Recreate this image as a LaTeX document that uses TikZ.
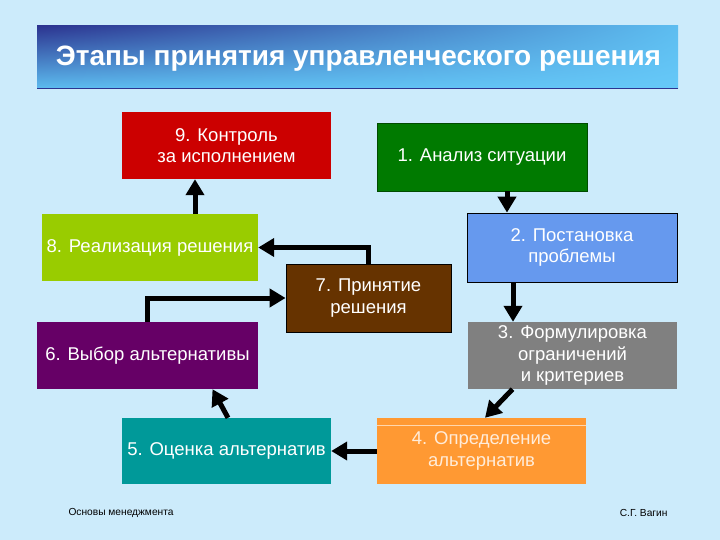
\documentclass[tikz,border=0pt]{standalone}
\usepackage{fontspec}
\setmainfont{Liberation Sans}
\usetikzlibrary{arrows.meta,shadings}
\definecolor{bg}{HTML}{CCEBFB}
\definecolor{tdark}{HTML}{2C3490}
\definecolor{tlight}{HTML}{5DBDF0}
\definecolor{tlight2}{HTML}{66C9F8}
\definecolor{c9}{HTML}{CC0000}
\definecolor{c1}{HTML}{007A00}
\definecolor{c2}{HTML}{6699EE}
\definecolor{c8}{HTML}{99CC00}
\definecolor{c7}{HTML}{663300}
\definecolor{c6}{HTML}{660066}
\definecolor{c3}{HTML}{808080}
\definecolor{c5}{HTML}{009999}
\definecolor{c4}{HTML}{FF9933}
\begin{document}
\begin{tikzpicture}[x=1pt,y=-1pt,
  box/.style={rectangle, inner sep=0pt, align=center, text=white,
    font=\fontsize{18.5}{21.5}\selectfont},
  arr/.style={line width=5pt, -{Triangle[width=18pt,length=16pt]}}]
\fill[bg] (0,0) rectangle (720,540);
\useasboundingbox (0,0) rectangle (720,540);
% title
\shade[upper left=tdark, upper right=tlight, lower left=tlight, lower right=tlight2] (37,26) rectangle (678,89);
\draw[tdark, line width=1pt] (37,89) -- (678,89);
\node[text=white, font=\fontsize{28}{32}\selectfont\bfseries] (title) at (358.5,59) {Этапы принятия управленческого решения};
% boxes
\node[box, fill=c9, minimum width=209pt, minimum height=67pt] (n9) at (226.5,145.5) {9. Контроль\\за исполнением};
\node[box, fill=c1, draw=black!70!green, line width=0.8pt, minimum width=210pt, minimum height=68pt] (n1) at (482,157) {1. Анализ ситуации};
\node[box, fill=c2, draw=black, line width=0.8pt, minimum width=210pt, minimum height=69pt] (n2) at (572,247.5) {2. Постановка\\проблемы};
\node[box, fill=c8, minimum width=216pt, minimum height=67pt] (n8) at (150,247.5) {8. Реализация решения};
\node[box, fill=c7, draw=black, line width=0.8pt, minimum width=165pt, minimum height=68pt] (n7) at (368.5,298) {7. Принятие\\решения};
\node[box, fill=c6, minimum width=221pt, minimum height=67pt] (n6) at (147.5,355.5) {6. Выбор альтернативы};
\node[box, fill=c3, minimum width=209pt, minimum height=67pt] (n3) at (572.5,355.5) {3. Формулировка\\ограничений\\и критериев};
\node[box, fill=c5, minimum width=209pt, minimum height=66pt] (n5) at (226.5,451) {5. Оценка альтернатив};
\node[box, fill=c4, text=white!85!orange, minimum width=209pt, minimum height=66pt] (n4) at (481.5,451) {4. Определение\\альтернатив};
\draw[white!60!c4, line width=0.8pt] ([yshift=-8pt]n4.north west) -- ([yshift=-8pt]n4.north east);
% arrows
\draw[arr] ([xshift=25pt]n1.south) -- ([xshift=25pt]n1.south |- n2.north);
\draw[arr] ([xshift=-59pt]n2.south) -- ([xshift=-59pt]n2.south |- n3.north);
\draw[arr] ([xshift=-60pt]n3.south) -- ([xshift=3.5pt]n4.north);
\draw[arr] (n4.west) -- (n5.east);
\draw[arr] ([xshift=1.5pt]n5.north) -- ([xshift=65pt]n6.south);
\draw[arr] (n6.north) |- (n7.west);
\draw[arr] (n7.north) |- (n8.east);
\draw[arr] ([xshift=45pt]n8.north) -- ([xshift=45pt]n8.north |- n9.south);
% footer
\node[anchor=west, font=\fontsize{10.2}{12}\selectfont] (f1) at (65,513) {Основы менеджмента};
\node[anchor=east, font=\fontsize{10.2}{12}\selectfont] (f2) at (671,513) {С.Г. Вагин};
\end{tikzpicture}
\end{document}
